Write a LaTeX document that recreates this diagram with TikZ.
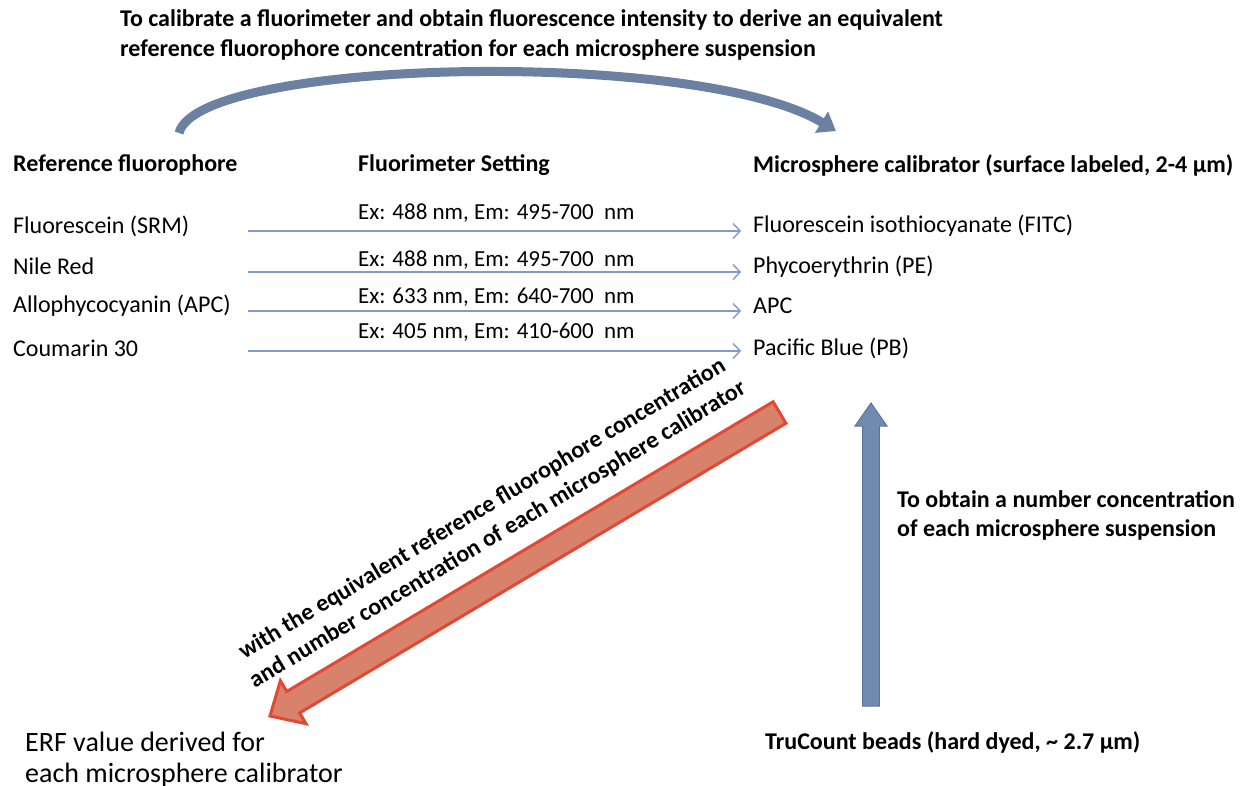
\documentclass[tikz,border=0pt]{standalone}
\usepackage{fontspec}
\setmainfont{Carlito}
\usetikzlibrary{arrows.meta,calc}
\definecolor{thinblue}{RGB}{128,155,200}
\definecolor{curveblue}{RGB}{108,128,162}
\definecolor{blockblue}{RGB}{114,137,176}
\definecolor{blockblueline}{RGB}{96,116,150}
\definecolor{blockred}{RGB}{217,130,107}
\definecolor{blockredline}{RGB}{226,72,52}
\tikzset{
  txt/.style={inner sep=0pt, anchor=west, font=\fontsize{24}{29}\selectfont},
  btxt/.style={inner sep=0pt, anchor=west, font=\fontsize{24}{29}\selectfont\bfseries},
  settxt/.style={inner sep=0pt, anchor=west, font=\fontsize{23}{27}\selectfont},
  thinarrow/.style={draw=thinblue, line width=1.4pt, -{Straight Barb[length=7pt,width=15pt,line width=1.4pt]}},
}
\begin{document}
\begin{tikzpicture}[x=1pt,y=-1pt]
\useasboundingbox (0,0) rectangle (1241,785);

% top text
\node[btxt, align=left, font=\fontsize{24}{30}\selectfont\bfseries] (top) at (120,35)
  {To calibrate a fluorimeter and obtain fluorescence intensity to derive an equivalent\\
   reference fluorophore concentration for each microsphere suspension};

% headers
\node[btxt] (h1) at (13,165) {Reference fluorophore};
\node[btxt] (h2) at (358,165) {Fluorimeter Setting};
\node[btxt] (h3) at (753,165) {Microsphere calibrator (surface labeled, 2-4 µm)};

% curved arrow
\coordinate (cs) at (179,133);
\coordinate (ce) at (836,131);
\draw[curveblue, line width=9pt, -{Triangle[width=24pt,length=17pt]}]
  (cs) .. controls (198,58) and (700,48) .. (ce);

% left labels
\node[txt] (l1) at (13,226) {Fluorescein (SRM)};
\node[txt] (l2) at (13,266) {Nile Red};
\node[txt] (l3) at (13,306) {Allophycocyanin (APC)};
\node[txt] (l4) at (13,348) {Coumarin 30};

% settings
\node[settxt] (e1) at (358,213) {Ex: 488 nm, Em: 495-700~~nm};
\node[settxt] (e2) at (358,260) {Ex: 488 nm, Em: 495-700~~nm};
\node[settxt] (e3) at (358,297) {Ex: 633 nm, Em: 640-700~~nm};
\node[settxt] (e4) at (358,332) {Ex: 405 nm, Em: 410-600~~nm};

% right labels
\node[txt] (r1) at (753,226) {Fluorescein isothiocyanate (FITC)};
\node[txt] (r2) at (753,267) {Phycoerythrin (PE)};
\node[txt] (r3) at (753,306) {APC};
\node[txt] (r4) at (753,348) {Pacific Blue (PB)};

% thin arrows
\coordinate (s1) at (248,231);
\coordinate (s2) at (248,272);
\coordinate (s3) at (248,311);
\coordinate (s4) at (248,351);
\draw[thinarrow] (s1) -- ([xshift=-12pt]s1 -| r1.west);
\draw[thinarrow] (s2) -- ([xshift=-12pt]s2 -| r2.west);
\draw[thinarrow] (s3) -- ([xshift=-12pt]s3 -| r3.west);
\draw[thinarrow] (s4) -- ([xshift=-12pt]s4 -| r4.west);

% red block arrow
\coordinate (rt) at (779.5,412.5);
\coordinate (rp) at (270,716);
\coordinate (rb) at ($(rp)!27pt!(rt)$);
\draw[fill=blockred, draw=blockredline, line width=3pt, line join=miter]
  ($(rt)!12.5pt!90:(rp)$) -- ($(rb)!12.5pt!-90:(rt)$) -- ($(rb)!25pt!-90:(rt)$) -- (rp)
  -- ($(rb)!25pt!90:(rt)$) -- ($(rb)!12.5pt!90:(rt)$) -- ($(rt)!12.5pt!-90:(rp)$) -- cycle;

% red arrow text
\node[inner sep=0pt, align=center, rotate=31, font=\fontsize{24}{30}\selectfont\bfseries] (rtext) at (490,522)
  {with the equivalent reference fluorophore concentration\\
   and number concentration of each microsphere calibrator};

% blue block arrow
\coordinate (bb) at (871,706);
\coordinate (bt) at (871,403);
\draw[fill=blockblue, draw=blockblueline, line width=1pt]
  ($(bb)+(-8.3,0)$) -- ($(bt)+(-8.3,23)$) -- ($(bt)+(-16,23)$) -- (bt)
  -- ($(bt)+(16,23)$) -- ($(bt)+(8.3,23)$) -- ($(bb)+(8.3,0)$) -- cycle;

% right texts
\node[btxt, align=left, font=\fontsize{24}{29}\selectfont\bfseries] (num) at (897,515)
  {To obtain a number concentration\\ of each microsphere suspension};
\node[btxt] (tru) at (765,742) {TruCount beads (hard dyed, \textasciitilde{} 2.7 µm)};

% ERF text
\node[inner sep=0pt, anchor=west, align=left, font=\fontsize{28}{31}\selectfont] (erf) at (25,760)
  {ERF value derived for\\ each microsphere calibrator};
\end{tikzpicture}
\end{document}
